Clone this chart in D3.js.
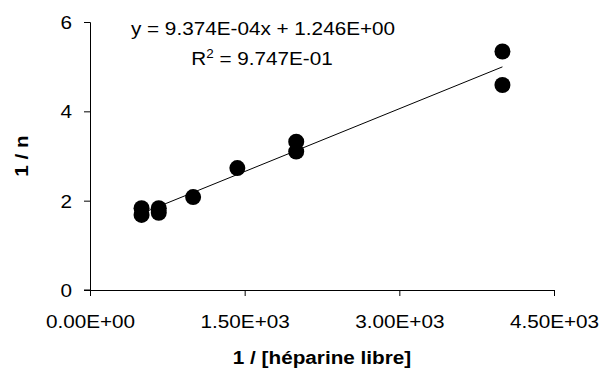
<!DOCTYPE html>
<html><head><meta charset="utf-8">
<script src="https://cdn.jsdelivr.net/npm/d3@7"></script>
<style>
html,body{margin:0;padding:0;background:#fff;}
text{font-family:"Liberation Sans",Arial,sans-serif;fill:#000;}
</style></head>
<body><svg id="c" width="602" height="371"></svg>
<script>
// Data
const xValues = [500, 500, 667, 667, 1000, 1429, 2000, 2000, 4000, 4000];
const yValues = [1.83, 1.68, 1.83, 1.73, 2.08, 2.73, 3.32, 3.10, 5.34, 4.59];
const xTicks = [0, 1500, 3000, 4500];
const xTickLabels = ["0.00E+00", "1.50E+03", "3.00E+03", "4.50E+03"];
const yTicks = [0, 2, 4, 6];
const trendSlope = 9.374e-4;
const trendIntercept = 1.246;
const trendRange = [500, 4000];
const equationText = "y = 9.374E-04x + 1.246E+00";
const r2Text = " = 9.747E-01";
const xTitle = "1 / [héparine libre]";
const yTitle = "1 / n";

const FS = 18.5, SX = 1.12;
const svg = d3.select("#c");
const m = {left: 90, right: 48, top: 22, bottom: 81};
const W = 602, H = 371;
const x = d3.scaleLinear().domain([0, 4500]).range([m.left, W - m.right]);
const y = d3.scaleLinear().domain([0, 6]).range([H - m.bottom, m.top]);

// x axis
const gx = svg.append("g").attr("transform", `translate(0,${y(0)})`)
  .call(d3.axisBottom(x).tickValues(xTicks).tickFormat((d,i)=>xTickLabels[i]).tickSizeOuter(0).tickSize(6));
gx.selectAll("text").attr("y", 0).attr("dy", 0)
  .attr("transform", `translate(0,38) scale(${SX},1)`)
  .style("font-size", FS + "px").style("font-family", '"Liberation Sans",Arial,sans-serif');
// y axis
const gy = svg.append("g").attr("transform", `translate(${x(0)},0)`)
  .call(d3.axisLeft(y).tickValues(yTicks).tickFormat(d3.format("d")).tickSizeOuter(0).tickSize(6));
gy.selectAll("text").attr("x", 0).attr("dy", 0)
  .attr("transform", `translate(-18,6.5) scale(${SX},1)`)
  .style("font-size", FS + "px").style("font-family", '"Liberation Sans",Arial,sans-serif');
svg.selectAll(".domain, .tick line").attr("stroke", "#000").attr("stroke-width", 1);
// extend x axis line slightly left of y axis like the original
svg.append("line").attr("x1", x(0) - 6).attr("x2", x(0)).attr("y1", y(0)).attr("y2", y(0)).attr("stroke", "#000");

// trend line
svg.append("line")
  .attr("x1", x(trendRange[0])).attr("y1", y(trendSlope * trendRange[0] + trendIntercept))
  .attr("x2", x(trendRange[1])).attr("y2", y(trendSlope * trendRange[1] + trendIntercept))
  .attr("stroke", "#000").attr("stroke-width", 1);

// points
svg.append("g").selectAll("circle").data(xValues.map((v,i)=>[v, yValues[i]])).join("circle")
  .attr("cx", d => x(d[0])).attr("cy", d => y(d[1])).attr("r", 8).attr("fill", "#000");

// equation
svg.append("text").attr("transform", `translate(263,35) scale(${SX},1)`)
  .attr("text-anchor", "middle").style("font-size", FS + "px").text(equationText);
const r2 = svg.append("text").attr("transform", `translate(262,65) scale(${SX},1)`)
  .attr("text-anchor", "middle").style("font-size", FS + "px");
r2.append("tspan").text("R");
r2.append("tspan").attr("dy", -7).style("font-size", "12px").text("2");
r2.append("tspan").attr("dy", 7).text(r2Text);

// axis titles
svg.append("text").attr("transform", `translate(322,364) scale(${SX},1)`)
  .attr("text-anchor", "middle").style("font-size", FS + "px").style("font-weight", "bold").text(xTitle);
svg.append("text").attr("transform", `translate(28,156) rotate(-90) scale(${SX},1)`)
  .attr("text-anchor", "middle").style("font-size", FS + "px").style("font-weight", "bold").text(yTitle);
</script></body></html>
